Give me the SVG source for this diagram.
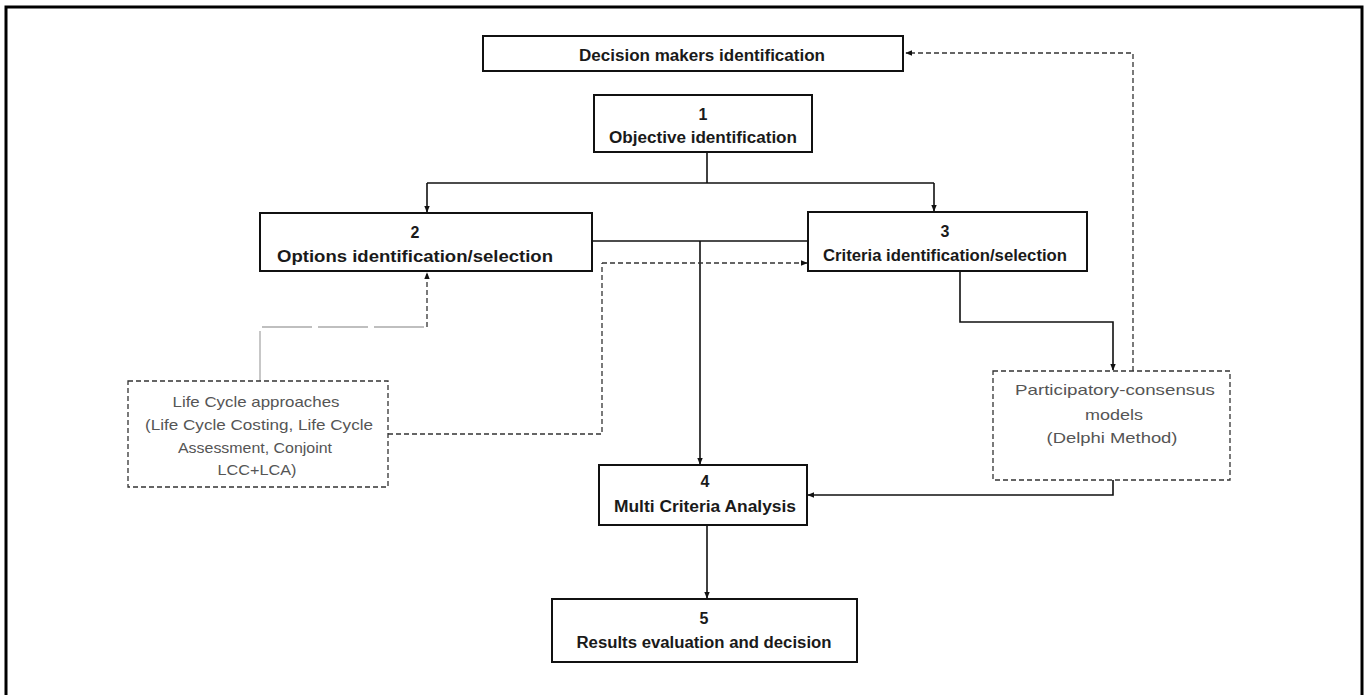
<svg xmlns="http://www.w3.org/2000/svg" width="1366" height="695" viewBox="0 0 1366 695">
<style>
.box{fill:#fff;stroke:#111;stroke-width:2}
.dbox{fill:#fff;stroke:#333;stroke-width:1.3;stroke-dasharray:5 3}
.b{font-family:"Liberation Sans",Arial,sans-serif;font-weight:bold;font-size:16px;fill:#1a1a1a;text-anchor:middle}
.n{font-family:"Liberation Sans",Arial,sans-serif;font-size:15px;fill:#555;text-anchor:middle}
.c{fill:none;stroke:#111;stroke-width:1.6}
.d{fill:none;stroke:#333;stroke-width:1.3;stroke-dasharray:5 3}
.g{fill:none;stroke:#aaa;stroke-width:1.3;stroke-dasharray:50 6}
</style>
<defs>
<marker id="ah" viewBox="0 0 10 10" refX="9" refY="5" markerWidth="7" markerHeight="7" orient="auto" markerUnits="userSpaceOnUse"><path d="M0,1 L10,5 L0,9 z" fill="#111"/></marker>
</defs>
<rect x="0" y="0" width="1366" height="695" fill="#fff"/>
<rect x="6" y="7" width="1356" height="700" fill="none" stroke="#000" stroke-width="3"/>
<g id="connectors">
<path class="c" d="M707,152 V183"/>
<path class="c" d="M427,183 H934"/>
<path class="c" d="M427,183 V212" marker-end="url(#ah)"/>
<path class="c" d="M934,183 V211" marker-end="url(#ah)"/>
<path class="c" d="M592,241 H808"/>
<path class="c" d="M700,241 V464" marker-end="url(#ah)"/>
<path class="d" d="M602,263 H807" marker-end="url(#ah)"/>
<path class="d" d="M388,434 H602 V263"/>
<path class="d" d="M427,327 V273" marker-end="url(#ah)"/>
<path class="g" d="M260,381 V327 H427"/>
<path class="c" d="M960,271 V322 H1113 V370" marker-end="url(#ah)"/>
<path class="c" d="M1113,480 V495 H808" marker-end="url(#ah)"/>
<path class="d" d="M1133,371 V53 H906" marker-end="url(#ah)"/>
<path class="c" d="M707,525 V598" marker-end="url(#ah)"/>
</g>
<g id="decision-makers">
<rect class="box" x="483" y="36" width="420" height="35"/>
<text class="b" x="702" y="61" textLength="246" lengthAdjust="spacingAndGlyphs">Decision makers identification</text>
</g>
<g id="node1">
<rect class="box" x="594" y="95" width="218" height="57"/>
<text class="b" x="703" y="120">1</text>
<text class="b" x="703" y="143" textLength="188" lengthAdjust="spacingAndGlyphs">Objective identification</text>
</g>
<g id="node2">
<rect class="box" x="260" y="213" width="332" height="58"/>
<text class="b" x="415" y="238">2</text>
<text class="b" x="415" y="262" textLength="276" lengthAdjust="spacingAndGlyphs">Options identification/selection</text>
</g>
<g id="node3">
<rect class="box" x="808" y="212" width="279" height="59"/>
<text class="b" x="945" y="237">3</text>
<text class="b" x="945" y="261" textLength="244" lengthAdjust="spacingAndGlyphs">Criteria identification/selection</text>
</g>
<g id="life-cycle">
<rect class="dbox" x="128" y="381" width="260" height="106"/>
<text class="n" x="256" y="407" textLength="167" lengthAdjust="spacingAndGlyphs">Life Cycle approaches</text>
<text class="n" x="259" y="430" textLength="228" lengthAdjust="spacingAndGlyphs">(Life Cycle Costing, Life Cycle</text>
<text class="n" x="255" y="453" textLength="154" lengthAdjust="spacingAndGlyphs">Assessment, Conjoint</text>
<text class="n" x="257" y="475" textLength="79" lengthAdjust="spacingAndGlyphs">LCC+LCA)</text>
</g>
<g id="participatory">
<rect class="dbox" x="993" y="371" width="237" height="109"/>
<text class="n" x="1115" y="395" textLength="200" lengthAdjust="spacingAndGlyphs">Participatory-consensus</text>
<text class="n" x="1114" y="420" textLength="58" lengthAdjust="spacingAndGlyphs">models</text>
<text class="n" x="1112" y="443" textLength="131" lengthAdjust="spacingAndGlyphs">(Delphi Method)</text>
</g>
<g id="node4">
<rect class="box" x="599" y="465" width="208" height="60"/>
<text class="b" x="705" y="487">4</text>
<text class="b" x="705" y="512" textLength="182" lengthAdjust="spacingAndGlyphs">Multi Criteria Analysis</text>
</g>
<g id="node5">
<rect class="box" x="552" y="599" width="305" height="63"/>
<text class="b" x="704" y="624">5</text>
<text class="b" x="704" y="648" textLength="255" lengthAdjust="spacingAndGlyphs">Results evaluation and decision</text>
</g>
</svg>
